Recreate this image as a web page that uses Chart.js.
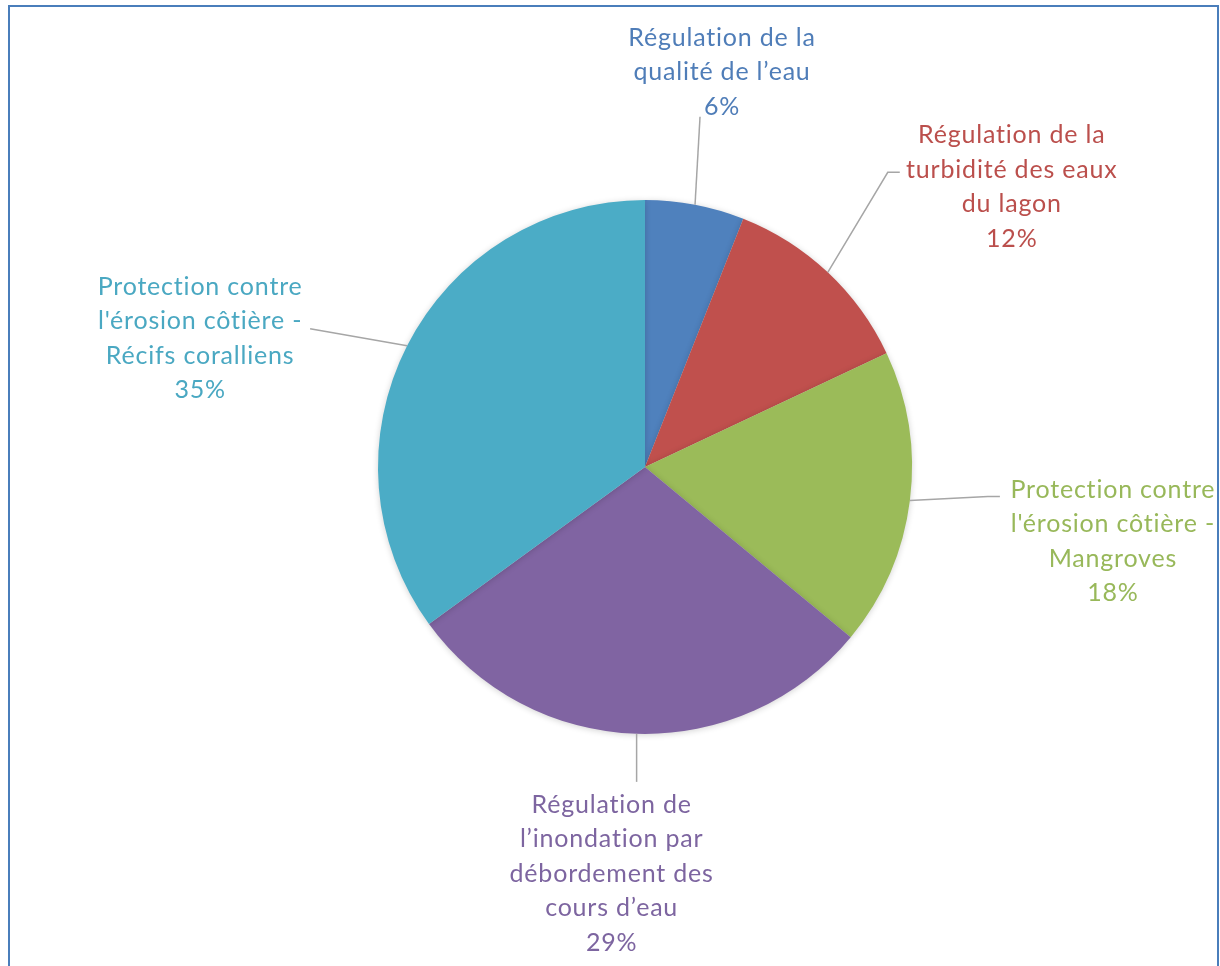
<!DOCTYPE html>
<html>
<head>
<meta charset="utf-8">
<script src="https://cdn.jsdelivr.net/npm/chart.js@4"></script>
<style>
    html, body { margin: 0; padding: 0; background: #fff; overflow: hidden; }
    #wrap { position: absolute; left: 0; top: 0; width: 1220px; height: 966px; }
    #frame {
        position: absolute; left: 8px; top: 5px; width: 1211px; height: 1000px;
        border: 2px solid #4a7ebb; box-sizing: border-box;
    }
</style>
</head>
<body>
<div id="frame"></div>
<div id="wrap"><canvas id="pie"></canvas></div>
<script>
// Categories and shares (%)
const categories = [
    ['Régulation de la', 'qualité de l\u2019eau'],
    ['Régulation de la', 'turbidité des eaux', 'du lagon'],
    ['Protection contre', 'l\'érosion côtière -', 'Mangroves'],
    ['Régulation de', 'l\u2019inondation par', 'débordement des', 'cours d\u2019eau'],
    ['Protection contre', 'l\'érosion côtière -', 'Récifs coralliens']
];
const shares = [6, 12, 18, 29, 35];

const sliceColors = ['#4f81bd', '#c0504d', '#9bbb59', '#8064a2', '#4bacc6'];
const textColors = ['#4f7db8', '#bb4f4c', '#98b85a', '#7d65a0', '#4aa8c2'];

// Label placement relative to the slice's outer mid point:
// leader line points, then centre of the first text line
const labelLayout = [
    { path: [[5, -88]], text: [27, -167] },
    { path: [[60, -100], [72, -100]], text: [184, -137] },
    { path: [[78, -4], [90, -4]], text: [203, -11] },
    { path: [[0, 48]], text: [-25, 71] },
    { path: [[-97, -17]], text: [-207, -59] }
];

const LINE_H = 34.5;
const FONT = '25px Lato, "Open Sans", sans-serif';

const labelPlugin = {
    id: 'outsideLabels',
    afterDatasetsDraw(chart) {
        const ctx = chart.ctx;
        const meta = chart.getDatasetMeta(0);
        meta.data.forEach((arc, i) => {
            const p = arc.getProps(['x', 'y', 'startAngle', 'endAngle', 'outerRadius'], true);
            const mid = (p.startAngle + p.endAngle) / 2;
            const ax = p.x + Math.cos(mid) * p.outerRadius;
            const ay = p.y + Math.sin(mid) * p.outerRadius;
            const lay = labelLayout[i];

            // leader line
            ctx.save();
            ctx.strokeStyle = '#a6a6a6';
            ctx.lineWidth = 1.5;
            ctx.beginPath();
            ctx.moveTo(ax, ay);
            lay.path.forEach(pt => ctx.lineTo(ax + pt[0], ay + pt[1]));
            ctx.stroke();

            // text (letter spacing also keeps "ti" from joining)
            const lines = categories[i].concat([shares[i] + '%']);
            ctx.fillStyle = textColors[i];
            ctx.font = FONT;
            ctx.letterSpacing = '0.8px';
            ctx.textAlign = 'center';
            ctx.textBaseline = 'middle';
            lines.forEach((t, k) => {
                ctx.fillText(t, ax + lay.text[0], ay + lay.text[1] + k * LINE_H);
            });
            ctx.restore();
        });
    }
};

// soft shadow under the pie
const shadowPlugin = {
    id: 'pieShadow',
    beforeDatasetsDraw(chart) {
        const ctx = chart.ctx;
        ctx.save();
        ctx.shadowColor = 'rgba(0, 0, 0, 0.18)';
        ctx.shadowBlur = 6;
        ctx.shadowOffsetX = 0;
        ctx.shadowOffsetY = 1;
    },
    afterDatasetsDraw(chart) {
        chart.ctx.restore();
    }
};

new Chart(document.getElementById('pie'), {
    type: 'pie',
    data: {
        labels: categories.map(c => c.join(' ')),
        datasets: [{
            data: shares,
            backgroundColor: sliceColors,
            borderWidth: 0
        }]
    },
    options: {
        responsive: true,
        maintainAspectRatio: false,
        animation: false,
        layout: {
            padding: { left: 378, right: 308, top: 200, bottom: 232 }
        },
        plugins: {
            legend: { display: false },
            tooltip: { enabled: false }
        }
    },
    plugins: [shadowPlugin, labelPlugin]
});
</script>
</body>
</html>
